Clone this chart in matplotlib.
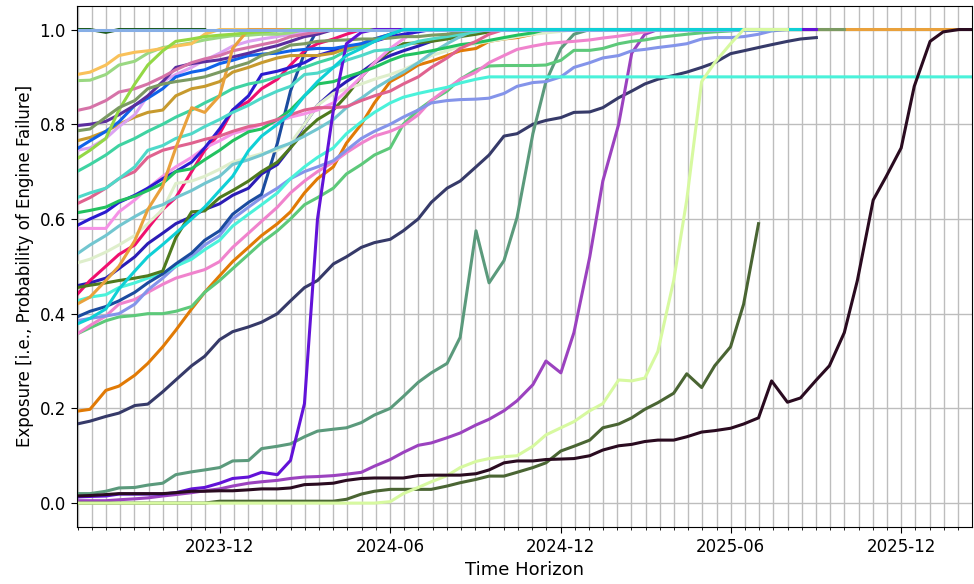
import matplotlib
matplotlib.use("Agg")
import matplotlib.pyplot as plt
import matplotlib.dates as mdates
from matplotlib.ticker import FixedLocator
import numpy as np
import pandas as pd

# Semi-monthly forecast horizon
dates = pd.date_range("2023-07-01", periods=64, freq="SMS")

# Exposure curves per engine (values at successive horizon dates)
sandy_yellow = [0.905, 0.91, 0.925, 0.945, 0.952, 0.955, 0.96, 0.965, 0.97, 0.99, 1.0, 1.0, 1.0, 1.0]
pale_green = [0.892, 0.893, 0.905, 0.925, 0.933, 0.95, 0.962, 0.966, 0.972, 0.978, 0.983, 0.987, 0.988,
              0.99, 0.99, 0.993, 1.0, 1.0, 1.0, 1.0]
orchid_pink = [0.829, 0.835, 0.85, 0.868, 0.875, 0.885, 0.9, 0.915, 0.93, 0.938, 0.945, 0.955, 0.962,
               0.968, 0.975, 0.985, 0.99, 0.995, 1.0, 1.0, 1.0]
rebecca = [0.797, 0.80, 0.806, 0.82, 0.84, 0.86, 0.89, 0.92, 0.928, 0.932, 0.936, 0.942, 0.95, 0.958,
           0.966, 0.975, 0.985, 0.99, 1.0, 1.0, 1.0]
olive_gray = [0.786, 0.79, 0.815, 0.835, 0.85, 0.875, 0.885, 0.89, 0.895, 0.9, 0.91, 0.92, 0.93, 0.945,
              0.955, 0.967, 0.97, 0.975, 0.977, 0.978, 0.98, 0.98, 0.982, 0.985, 0.985, 0.988, 0.99, 0.995,
              1.0, 1.0, 1.0, 1.0, 1.0, 1.0, 1.0, 1.0, 1.0, 1.0, 1.0, 1.0, 1.0, 1.0, 1.0, 1.0, 1.0, 1.0, 1.0,
              1.0, 1.0, 1.0, 1.0, 1.0, 1.0, 1.0, 1.0]
bright_blue = [0.748, 0.765, 0.785, 0.805, 0.84, 0.855, 0.875, 0.9, 0.91, 0.915, 0.928, 0.935, 0.945,
               0.948, 0.95, 0.955, 0.958, 0.96, 0.96, 0.965, 0.97, 0.98, 0.99, 1.0, 1.0, 1.0]
lavender = [0.745, 0.75, 0.77, 0.795, 0.82, 0.86, 0.89, 0.905, 0.92, 0.935, 0.95, 0.965, 0.975, 0.98,
            0.985, 0.99, 0.995, 1.0, 1.0, 1.0]
lime = [0.727, 0.745, 0.77, 0.83, 0.885, 0.925, 0.955, 0.975, 0.98, 0.985, 0.988, 0.99, 0.993, 0.995,
        0.997, 1.0, 1.0, 1.0, 1.0, 1.0, 1.0, 1.0, 1.0, 1.0, 1.0, 1.0, 1.0, 1.0, 1.0, 1.0, 1.0, 1.0, 1.0,
        1.0, 1.0, 1.0, 1.0, 1.0, 1.0, 1.0, 1.0, 1.0, 1.0, 1.0, 1.0, 1.0, 1.0, 1.0, 1.0, 1.0, 1.0, 1.0,
        1.0, 1.0]
goldenrod = [0.765, 0.772, 0.785, 0.80, 0.815, 0.825, 0.83, 0.86, 0.875, 0.88, 0.89, 0.91, 0.92, 0.93,
             0.94, 0.945, 0.945, 0.945, 0.95, 0.96, 0.97, 0.98, 0.99, 1.0, 1.0, 1.0]
aquamarine = [0.70, 0.715, 0.735, 0.755, 0.77, 0.785, 0.80, 0.815, 0.83, 0.845, 0.86, 0.875, 0.885, 0.89,
              0.90, 0.91, 0.92, 0.93, 0.94, 0.955, 0.965, 0.975, 0.99, 1.0, 1.0, 1.0]
med_turquoise = [0.645, 0.655, 0.665, 0.685, 0.71, 0.745, 0.755, 0.77, 0.78, 0.795, 0.81, 0.825, 0.84,
                 0.855, 0.87, 0.88, 0.905, 0.908, 0.92, 0.935, 0.945, 0.955, 0.958, 0.965, 0.975, 0.98,
                 0.985, 0.99, 0.995, 1.0, 1.0, 1.0]
pale_violet_red = [0.632, 0.645, 0.665, 0.685, 0.70, 0.73, 0.745, 0.752, 0.76, 0.768, 0.775, 0.785, 0.795,
                   0.80, 0.81, 0.82, 0.83, 0.835, 0.835, 0.837, 0.85, 0.86, 0.87, 0.885, 0.9, 0.92, 0.94,
                   0.96, 0.975, 0.99, 1.0, 1.0, 1.0]
green = [0.613, 0.618, 0.625, 0.638, 0.648, 0.66, 0.675, 0.70, 0.706, 0.725, 0.745, 0.765, 0.784, 0.79,
         0.81, 0.83, 0.86, 0.885, 0.89, 0.9, 0.91, 0.92, 0.935, 0.945, 0.95, 0.955, 0.962, 0.968, 0.972,
         0.977, 0.983, 0.988, 0.993, 1.0, 1.0, 1.0]
medium_blue = [0.586, 0.60, 0.615, 0.635, 0.65, 0.665, 0.685, 0.70, 0.72, 0.75, 0.79, 0.83, 0.86, 0.905,
               0.912, 0.92, 0.93, 0.945, 0.955, 0.96, 0.965, 0.975, 0.985, 0.99, 0.995, 1.0, 1.0, 1.0]
light_pink = [0.58, 0.58, 0.58, 0.615, 0.64, 0.665, 0.69, 0.71, 0.73, 0.75, 0.765, 0.78, 0.79, 0.80, 0.805,
              0.815, 0.822, 0.83, 0.845, 0.87, 0.9, 0.93, 0.96, 0.98, 1.0, 1.0, 1.0]
cadet = [0.526, 0.545, 0.565, 0.585, 0.605, 0.62, 0.63, 0.645, 0.66, 0.675, 0.69, 0.715, 0.725, 0.735,
         0.75, 0.76, 0.775, 0.79, 0.81, 0.835, 0.855, 0.875, 0.895, 0.91, 0.93, 0.95, 0.97, 0.985, 1.0,
         1.0, 1.0]
honeydew = [0.507, 0.515, 0.53, 0.545, 0.565, 0.59, 0.62, 0.675, 0.68, 0.69, 0.705, 0.72, 0.73, 0.738,
            0.745, 0.76, 0.8, 0.84, 0.865, 0.875, 0.885, 0.895, 0.905, 0.915, 0.93, 0.945, 0.955, 0.965,
            0.97, 0.975, 0.98, 0.985, 0.99, 0.993, 0.996, 1.0, 1.0, 1.0]
sandy_orange = [0.42, 0.435, 0.47, 0.50, 0.554, 0.62, 0.67, 0.75, 0.835, 0.825, 0.86, 0.96, 1.0, 1.0, 1.0,
                1.0, 1.0, 1.0, 1.0, 1.0, 1.0, 1.0, 1.0, 1.0, 1.0, 1.0, 1.0, 1.0, 1.0, 1.0, 1.0, 1.0, 1.0,
                1.0, 1.0, 1.0, 1.0, 1.0, 1.0, 1.0, 1.0, 1.0, 1.0, 1.0, 1.0, 1.0, 1.0, 1.0, 1.0, 1.0, 1.0,
                1.0, 1.0, 1.0, 1.0, 1.0, 1.0, 1.0, 1.0, 1.0, 1.0, 1.0, 1.0]
dark_olive = [0.455, 0.46, 0.465, 0.47, 0.475, 0.48, 0.49, 0.56, 0.615, 0.617, 0.645, 0.66, 0.68, 0.70,
              0.72, 0.75, 0.785, 0.81, 0.83, 0.86, 0.90, 0.93, 0.955, 0.97, 0.972, 0.975, 0.98, 0.985,
              0.99, 0.995, 1.0, 1.0, 1.0]
deep_pink = [0.44, 0.47, 0.5, 0.525, 0.545, 0.58, 0.62, 0.645, 0.70, 0.745, 0.78, 0.83, 0.848, 0.875,
             0.895, 0.925, 0.955, 0.97, 0.98, 0.99, 1.0, 1.0, 1.0]
dark_turquoise = [0.378, 0.39, 0.41, 0.452, 0.49, 0.52, 0.546, 0.57, 0.60, 0.625, 0.66, 0.69, 0.744, 0.775,
                  0.80, 0.822, 0.86, 0.89, 0.92, 0.945, 0.96, 0.975, 0.99, 1.0, 1.0, 1.0, 1.0, 1.0, 1.0,
                  1.0, 1.0, 1.0, 1.0, 1.0, 1.0, 1.0, 1.0, 1.0, 1.0, 1.0, 1.0, 1.0, 1.0, 1.0, 1.0, 1.0,
                  1.0, 1.0, 1.0, 1.0, 1.0, 1.0]
light_turquoise = [0.427, 0.435, 0.44, 0.455, 0.465, 0.475, 0.485, 0.50, 0.515, 0.535, 0.555, 0.585, 0.61,
                   0.63, 0.655, 0.685, 0.71, 0.73, 0.75, 0.78, 0.805, 0.825, 0.845, 0.857, 0.865, 0.871,
                   0.878, 0.887, 0.895, 0.9, 0.9, 0.9, 0.9, 0.9, 0.9, 0.9, 0.9, 0.9, 0.9, 0.9, 0.9, 0.9,
                   0.9, 0.9, 0.9, 0.9, 0.9, 0.9, 0.9, 0.9, 0.9, 0.9, 0.9, 0.9, 0.9, 0.9, 0.9, 0.9, 0.9,
                   0.9, 0.9, 0.9, 0.9, 0.9]
cerulean = [0.393, 0.405, 0.415, 0.427, 0.445, 0.465, 0.484, 0.505, 0.528, 0.555, 0.575, 0.61, 0.635,
            0.652, 0.76, 0.87, 0.95, 1.0, 1.0, 1.0]
periwinkle = [0.385, 0.39, 0.395, 0.40, 0.42, 0.45, 0.475, 0.5, 0.52, 0.545, 0.565, 0.6, 0.625, 0.645,
              0.665, 0.685, 0.70, 0.71, 0.723, 0.745, 0.77, 0.785, 0.80, 0.815, 0.83, 0.845, 0.85, 0.852,
              0.853, 0.855, 0.865, 0.88, 0.888, 0.89, 0.90, 0.92, 0.93, 0.94, 0.945, 0.955, 0.958, 0.962,
              0.966, 0.97, 0.98, 0.983, 0.983, 0.985, 0.99, 0.997, 1.0]
pink = [0.357, 0.375, 0.395, 0.42, 0.43, 0.445, 0.462, 0.475, 0.485, 0.493, 0.51, 0.54, 0.57, 0.595, 0.625,
        0.655, 0.68, 0.70, 0.72, 0.74, 0.76, 0.775, 0.785, 0.797, 0.82, 0.85, 0.875, 0.895, 0.91, 0.93,
        0.945, 0.958, 0.965, 0.97, 0.973, 0.975, 0.978, 0.982, 0.986, 0.99, 0.995, 1.0, 1.0, 1.0]
medium_green = [0.357, 0.37, 0.385, 0.393, 0.396, 0.40, 0.40, 0.405, 0.415, 0.445, 0.47, 0.495, 0.525,
                0.55, 0.575, 0.60, 0.63, 0.645, 0.665, 0.695, 0.715, 0.735, 0.75, 0.80, 0.83, 0.85, 0.87,
                0.895, 0.915, 0.923, 0.924, 0.924, 0.924, 0.925, 0.935, 0.956, 0.956, 0.96, 0.97, 0.975,
                0.978, 0.983, 0.987, 0.99, 0.993, 0.995, 0.997, 1.0, 1.0]
dark_orange = [0.194, 0.198, 0.238, 0.247, 0.27, 0.295, 0.33, 0.365, 0.41, 0.445, 0.48, 0.51, 0.54, 0.565,
               0.59, 0.615, 0.655, 0.685, 0.71, 0.76, 0.80, 0.845, 0.89, 0.905, 0.925, 0.933, 0.945, 0.955,
               0.96, 0.975, 0.98, 0.983, 0.99, 0.997, 1.0, 1.0, 1.0]
navy = [0.167, 0.173, 0.183, 0.19, 0.206, 0.209, 0.235, 0.26, 0.29, 0.31, 0.345, 0.362, 0.372, 0.382, 0.40,
        0.427, 0.455, 0.47, 0.505, 0.52, 0.54, 0.55, 0.557, 0.575, 0.60, 0.635, 0.665, 0.68, 0.71, 0.735,
        0.775, 0.78, 0.80, 0.808, 0.814, 0.825, 0.826, 0.835, 0.856, 0.87, 0.885, 0.895, 0.903, 0.91, 0.92,
        0.93, 0.949, 0.955, 0.962, 0.968, 0.975, 0.98, 0.983]
sea_green = [0.02, 0.02, 0.025, 0.032, 0.033, 0.038, 0.042, 0.06, 0.066, 0.07, 0.075, 0.089, 0.09, 0.115,
             0.12, 0.125, 0.14, 0.152, 0.156, 0.159, 0.17, 0.186, 0.2, 0.225, 0.255, 0.275, 0.295, 0.35,
             0.575, 0.465, 0.512, 0.603, 0.78, 0.89, 0.96, 0.99, 1.0, 1.0, 1.0]
violet = [0.013, 0.014, 0.015, 0.019, 0.019, 0.019, 0.019, 0.022, 0.03, 0.033, 0.042, 0.052, 0.055, 0.065,
          0.06, 0.09, 0.21, 0.6, 0.83, 0.97, 0.994, 1.0, 1.0, 1.0, 1.0, 1.0, 1.0, 1.0, 1.0, 1.0, 1.0, 1.0,
          1.0, 1.0, 1.0, 1.0, 1.0, 1.0, 1.0, 1.0, 1.0, 1.0, 1.0, 1.0, 1.0, 1.0, 1.0, 1.0, 1.0, 1.0, 1.0,
          1.0, 1.0]
purple = [0.005, 0.005, 0.005, 0.007, 0.009, 0.011, 0.015, 0.018, 0.022, 0.026, 0.03, 0.036, 0.042, 0.045,
          0.048, 0.052, 0.055, 0.056, 0.058, 0.061, 0.065, 0.078, 0.092, 0.107, 0.122, 0.127, 0.138, 0.148,
          0.165, 0.177, 0.195, 0.216, 0.25, 0.30, 0.275, 0.36, 0.52, 0.68, 0.80, 0.95, 0.99, 1.0, 1.0, 1.0]
black = [0.015, 0.016, 0.018, 0.02, 0.02, 0.02, 0.02, 0.022, 0.025, 0.025, 0.026, 0.026, 0.028, 0.03, 0.03,
         0.032, 0.039, 0.04, 0.042, 0.048, 0.052, 0.053, 0.053, 0.053, 0.058, 0.059, 0.059, 0.059, 0.062,
         0.07, 0.085, 0.089, 0.089, 0.092, 0.093, 0.094, 0.1, 0.112, 0.121, 0.124, 0.13, 0.133, 0.133, 0.14,
         0.15, 0.153, 0.158, 0.167, 0.18, 0.258, 0.213, 0.222, 0.26, 0.29, 0.36, 0.47, 0.64, 0.69, 0.75,
         0.88, 0.975, 0.995, 1.0, 1.0]
hunter = [0.0, 0.0, 0.0, 0.0, 0.0, 0.0, 0.0, 0.0, 0.0, 0.0, 0.004, 0.004, 0.004, 0.004, 0.004, 0.004, 0.004,
          0.004, 0.004, 0.008, 0.019, 0.025, 0.029, 0.029, 0.029, 0.029, 0.036, 0.043, 0.05, 0.057, 0.057,
          0.065, 0.075, 0.085, 0.11, 0.12, 0.133, 0.159, 0.167, 0.18, 0.198, 0.212, 0.232, 0.273, 0.244,
          0.29, 0.33, 0.42, 0.59]
pale_lime = [0.0, 0.0, 0.0, 0.0, 0.0, 0.0, 0.0, 0.0, 0.0, 0.0, 0.0, 0.0, 0.0, 0.0, 0.0, 0.0, 0.0, 0.0, 0.0,
             0.0, 0.0, 0.0, 0.003, 0.02, 0.033, 0.045, 0.058, 0.075, 0.088, 0.094, 0.098, 0.1, 0.12, 0.144,
             0.159, 0.172, 0.195, 0.21, 0.26, 0.258, 0.264, 0.32, 0.47, 0.64, 0.89, 0.93, 0.97, 1.0, 1.0,
             1.0, 1.0]
indigo = [0.459, 0.465, 0.475, 0.495, 0.52, 0.548, 0.57, 0.59, 0.605, 0.62, 0.632, 0.65, 0.665, 0.695,
          0.715, 0.75, 0.80, 0.84, 0.87, 0.89, 0.91, 0.93, 0.945, 0.955, 0.965, 0.975, 0.985, 0.995, 1.0,
          1.0, 1.0]
dark_green = [1.0, 1.0, 0.994, 1.0, 1.0, 1.0, 1.0, 1.0, 1.0, 1.0]
light_blue = [1.0, 1.0, 1.0, 1.0, 1.0, 1.0, 1.0, 1.0, 1.0, 1.0, 1.0, 1.0, 1.0, 1.0, 1.0, 1.0, 1.0, 1.0, 1.0,
              1.0, 1.0, 1.0, 1.0, 1.0, 1.0, 1.0, 1.0, 1.0, 1.0, 1.0, 1.0, 1.0, 1.0, 1.0, 1.0, 1.0, 1.0, 1.0,
              1.0, 1.0, 1.0, 1.0, 1.0, 1.0, 1.0, 1.0, 1.0, 1.0, 1.0, 1.0]

# Drawing order (later entries sit on top)
series = [
    (navy, "#363a69"), (sea_green, "#5b9a7c"), (purple, "#9b42bf"), (hunter, "#4a6533"),
    (dark_orange, "#e17a05"), (medium_green, "#5dc97a"), (pink, "#f083cd"), (periwinkle, "#8494ea"),
    (light_turquoise, "#4af2da"), (cerulean, "#1a4b9f"), (indigo, "#2b1cb5"), (deep_pink, "#f0106f"),
    (dark_olive, "#4f7a1d"), (honeydew, "#deeecb"), (cadet, "#72c6d0"), (light_pink, "#f592e6"),
    (medium_blue, "#2a1bd0"), (green, "#22c260"), (pale_violet_red, "#e0628f"),
    (med_turquoise, "#4fd9c9"), (aquamarine, "#3fd3a2"), (goldenrod, "#c79a2e"),
    (lavender, "#dca2f2"), (bright_blue, "#1062ea"), (rebecca, "#5b2d9e"), (orchid_pink, "#d673a8"),
    (pale_green, "#9ad882"), (sandy_yellow, "#f9c15a"), (sandy_orange, "#e9a13c"), (lime, "#93d845"),
    (olive_gray, "#7b9a62"), (violet, "#6212d8"), (dark_green, "#1e5a1e"), (light_blue, "#86aee6"),
    (dark_turquoise, "#0fd0d6"), (pale_lime, "#d7f9a0"), (black, "#2a0b20"),
]

fig, ax = plt.subplots(figsize=(9.74, 5.84), dpi=100)
fig.subplots_adjust(left=0.079, right=0.998, top=0.990, bottom=0.098)

for values, color in series:
    ax.plot(dates[:len(values)], values, color=color, lw=2.2, solid_capstyle="projecting")

ax.set_xlim(dates[0], dates[-1])
major_locator = mdates.MonthLocator(bymonth=[6, 12])
ax.xaxis.set_major_locator(major_locator)
ax.xaxis.set_major_formatter(mdates.DateFormatter("%Y-%m"))

# Minor ticks: 12 even steps per half-year, skipping spots next to a labelled month
m0 = mdates.date2num(pd.Timestamp("2023-12-01"))
m1 = mdates.date2num(pd.Timestamp("2025-12-01"))
step = (m1 - m0) / 48
minor = m0 + step * np.arange(-10, 54)
majors = np.array([mdates.date2num(pd.Timestamp(s)) for s in
                   ["2023-12-01", "2024-06-01", "2024-12-01", "2025-06-01", "2025-12-01"]])
minor = minor[np.min(np.abs(minor[:, None] - majors[None, :]), axis=1) > 3]
ax.xaxis.set_minor_locator(FixedLocator(minor))

ax.grid(which="both", axis="x", color="#bdbdbd", lw=1.0)
ax.grid(which="major", axis="y", color="#bdbdbd", lw=1.0)
ax.set_axisbelow(True)

ax.tick_params(axis="both", which="major", labelsize=12, length=4.5)
ax.tick_params(axis="x", which="minor", length=2.5)

ax.set_xlabel("Time Horizon", fontsize=13)
ax.set_ylabel("Exposure [i.e., Probability of Engine Failure]", fontsize=12)

fig.savefig("out.png", dpi=100)
